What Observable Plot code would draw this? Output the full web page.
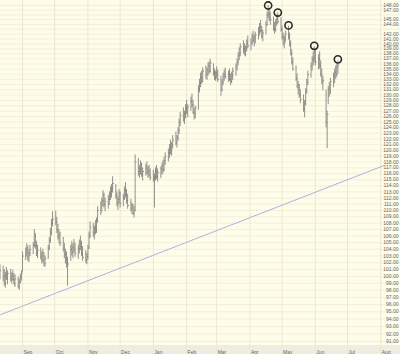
<!DOCTYPE html>
<html><head><meta charset="utf-8">
<script src="https://cdn.jsdelivr.net/npm/d3@7"></script>
<script src="https://cdn.jsdelivr.net/npm/@observablehq/plot@0.6"></script>
<style>html,body{margin:0;padding:0;background:#fefde9;} svg{display:block}</style>
</head><body><div id="chart"></div>
<script>
// ---- data ----
const firstDay = "2006-08-11", lastDay = "2007-06-22";
const high = [
101.7,
101.5,101.0,100.6,101.3,100.8, 101.0,100.5,100.9,100.4,100.2, 99.9,99.6,100.3,100.8,103.6,
104.2,104.8,104.5,103.9,104.6, 105.0,107.0,106.4,105.2,104.6, 104.2,103.6,104.0,103.4,103.0, 104.6,105.8,107.2,108.6,109.8,
109.9,108.9,107.8,107.0,106.6, 105.8,104.9,104.0,103.6,102.8, 104.6,105.2,104.8,105.5,104.9, 104.6,105.4,106.0,105.2,104.4,
103.8,103.4,104.6,106.6,108.2, 108.0,107.6,108.4,108.8,110.6, 111.4,112.0,113.2,112.8,112.0, 112.4,113.0,113.8,114.2,115.5,
114.2,113.0,112.2,113.4,113.0, 112.6,113.8,114.5,113.4,112.6, 111.8,111.2,111.0,110.6,119.2, 118.6,117.4,118.2,117.8,117.0,
117.6,118.0,117.2,117.4,116.8, 116.6,116.0,117.0,117.4,116.8, 117.2,117.8,118.2,118.8,119.6, 120.2,121.0,121.8,121.4,122.6,
123.2,122.6,124.0,125.6,126.8, 127.6,127.0,128.2,129.0,128.2, 129.6,130.2,129.0,127.6,128.0, 131.8,133.0,134.2,134.6,135.2,
135.6,135.2,136.2,136.4,136.9, 136.0,135.0,134.6,135.4,134.8, 133.6,133.0,134.2,134.8,135.2, 134.6,135.0,134.0,134.4,135.2,
136.0,137.0,138.2,139.2,140.0, 140.6,140.0,139.6,140.8,141.6, 141.0,142.0,142.6,141.8,142.4, 143.4,144.2,144.8,143.6,142.8,
144.6,146.6,148.0,147.2,146.6, 145.6,144.4,145.0,146.0,146.4, 145.4,143.6,142.2,141.6,142.6, 143.6,142.2,140.6,138.8,137.2,
135.6,134.0,132.6,132.0,131.0, 130.0,129.0,131.2,133.0,134.6, 136.2,137.4,138.4,139.4,138.6, 137.8,138.4,136.6,135.0,133.6,
131.0,127.0,131.6,132.4,133.2, 134.2,135.0,135.6,136.0,136.6
];
const low = [
99.5,
99.2,98.6,98.3,99.4,98.8, 99.2,98.9,99.3,98.7,98.4, 98.2,98.0,98.9,99.3,100.6,
102.3,102.8,102.2,102.0,102.9, 103.2,104.2,104.0,102.9,102.6, 102.4,101.8,102.0,101.4,101.3, 102.5,103.8,104.9,106.0,107.4,
107.6,106.4,105.4,104.8,104.4, 103.6,102.6,101.8,101.2,98.6, 102.2,103.0,102.6,103.4,102.8, 102.5,103.3,103.8,102.9,102.2,
101.9,101.7,102.4,104.0,105.6, 105.8,105.4,106.2,106.4,108.0, 109.2,109.8,110.6,110.4,109.8, 110.2,110.8,111.6,112.0,112.8,
111.8,110.6,110.0,111.0,110.4, 110.6,111.6,112.0,111.0,110.2, 109.8,109.4,109.2,108.8,109.8, 115.6,115.2,115.8,115.4,114.8,
115.6,115.8,115.2,115.4,114.8, 114.6,110.4,114.8,115.0,114.6, 115.2,115.8,116.0,116.4,117.4, 118.0,118.6,119.2,119.0,120.2,
120.8,120.4,121.6,122.8,124.2, 125.0,124.6,125.6,126.4,125.8, 127.0,127.6,126.4,125.4,125.6, 127.2,130.4,131.4,132.0,132.4,
133.0,132.8,133.6,134.0,134.2, 133.6,132.8,132.6,133.0,132.4, 129.8,130.6,131.8,132.6,133.0, 132.4,132.6,131.8,132.2,132.8,
133.6,134.6,135.6,136.6,137.4, 138.0,137.6,137.4,138.4,139.0, 138.6,139.6,140.2,139.4,140.0, 140.8,141.6,142.2,141.0,140.4,
141.8,143.6,145.2,144.6,143.8, 142.6,142.0,142.4,143.6,144.0, 142.4,140.8,139.6,139.0,140.2, 140.8,139.4,137.6,135.8,134.6,
132.6,131.2,130.0,129.4,128.4, 126.8,125.8,128.0,130.2,131.8, 133.2,134.6,135.6,136.2,135.6, 134.8,135.0,133.4,132.0,130.8,
124.0,120.3,128.2,129.6,130.2, 131.4,132.2,133.0,133.4,134.0
];
const close = [
100.8,
100.0,99.0,100.2,99.8,100.4, 99.6,100.1,99.5,99.0,99.6, 98.6,99.2,99.9,100.5,103.0,
103.5,104.2,102.8,103.4,104.0, 104.6,106.0,104.6,103.4,103.8, 103.0,102.4,103.5,101.9,102.6, 104.2,105.4,106.6,108.0,108.6,
108.2,107.0,105.9,106.3,105.0, 104.2,103.2,102.5,102.0,101.8, 104.0,103.6,104.3,104.0,103.4, 104.1,104.9,104.4,103.3,102.8,
102.4,102.9,104.2,106.0,107.4, 106.6,107.2,106.8,108.4,110.0, 109.8,111.6,112.5,111.0,111.4, 111.8,112.6,113.2,113.6,114.4,
112.4,111.2,111.8,112.8,111.2, 112.0,113.2,112.6,111.6,110.8, 110.4,110.8,109.6,110.0,118.0, 116.4,116.8,117.6,116.0,116.4,
117.0,116.2,116.6,115.8,115.4, 115.2,115.6,116.4,115.6,116.2, 116.8,117.4,116.6,118.2,119.0, 119.6,120.4,120.0,121.0,121.8,
121.4,122.2,123.6,125.0,126.2, 125.6,126.6,127.6,127.2,127.8, 128.8,128.2,126.8,126.6,127.6, 131.2,132.4,133.4,132.6,134.6,
134.0,134.8,135.6,134.6,136.2, 134.2,133.4,134.2,133.8,133.0, 131.0,132.4,133.6,134.0,133.6, 134.0,133.0,132.6,133.8,134.6,
135.4,136.4,137.6,138.2,139.4, 139.0,138.6,139.2,140.2,139.6, 140.4,141.4,140.8,141.2,141.8, 142.6,143.4,142.8,141.6,142.2,
144.0,146.0,146.2,145.4,145.0, 143.2,142.8,144.4,145.2,144.6, 143.0,141.4,140.2,141.0,142.0, 141.6,139.8,138.0,136.4,135.0,
133.2,131.8,131.4,130.0,129.2, 127.4,128.4,130.6,132.4,134.0, 135.6,136.8,137.2,138.6,136.4, 137.0,135.6,134.0,132.6,132.8,
125.0,126.4,131.0,130.4,132.6, 133.6,134.4,134.0,135.4,135.8
];
const markDates = ["2007-04-18","2007-04-27","2007-05-07","2007-05-31","2007-06-22"];
const markValues = [148.0, 146.5, 143.8, 139.6, 136.9];
const trendDates = ["2006-08-11T12:00Z", "2007-08-04"];
const trendValues = [94.6, 117.4];
const monthTicks = ["2006-09-01","2006-10-01","2006-11-01","2006-12-01","2007-01-01","2007-02-01","2007-03-01","2007-04-01","2007-05-01","2007-06-01","2007-07-01","2007-08-01"];
const monthNames = ["Sep","Oct","Nov","Dec","Jan","Feb","Mar","Apr","May","Jun","Jul","Aug"];
const priceLabels = [148,147,145,144,142,141,140,139,138,137,136,135,134,133,132,131,130,129,128,127,126,125,124,123,122,121,120,119,118,117,116,115,114,113,112,111,110,109,108,107,106,105,104,103,102,101,100,99,98,97,96,95,94,93,92,91];
const gridValues = [148,147,146,145,144,143,142,141,140,139,138,137,136,135,134,133,132,131,130,129,128,127,126,125,124,123,122,121,120,119,118,117,116,115,114,113,112,111,110,109,108,107,106,105,104,103,102,101,100,99,98,97,96,95,94,93,92,91];

// ---- build tables ----
const tradingDays = d3.utcDay.range(new Date(firstDay), d3.utcDay.offset(new Date(lastDay), 1))
  .filter(d => d.getUTCDay() !== 0 && d.getUTCDay() !== 6);
const bars = tradingDays.map((date, i) => ({date, high: high[i], low: low[i], close: close[i]}))
  .filter(d => d.high != null);
const marks = markDates.map((d, i) => ({date: new Date(d), value: markValues[i]}));
const trend = trendDates.map((d, i) => ({date: new Date(d), value: trendValues[i]}));
const months = monthTicks.map((d, i) => ({date: new Date(d), name: monthNames[i]}));

const plot = Plot.plot({
  width: 400, height: 354, margin: 0,
  x: {type: "utc", domain: [new Date("2006-08-11T12:00Z"), new Date("2007-08-19T09:00Z")], range: [0, 400], axis: null},
  y: {type: "log", domain: [91, 148], range: [341, 5], axis: null},
  style: {background: "#fefde9", fontFamily: "'Liberation Sans', Arial, sans-serif", fontSize: "5px", overflow: "hidden"},
  marks: [
    Plot.ruleY(gridValues, {stroke: "#f3f0da", strokeWidth: 1}),
    Plot.ruleX(months, {x: "date", stroke: "#ece8cf", strokeWidth: 1}),
    Plot.line(trend, {x: "date", y: "value", stroke: "#aab2e2", strokeWidth: 1}),
    Plot.ruleX(bars, {x: "date", y1: "low", y2: "high", stroke: "#6e6e6e", strokeWidth: 0.75}),
    Plot.dot(bars, {x: "date", y: "close", r: 0.5, fill: "#6e6e6e", dx: 0.8}),
    Plot.dot(marks, {x: "date", y: "value", r: 3.6, stroke: "#2a2a2a", strokeWidth: 1.6, fill: "none"}),
    Plot.text(priceLabels, {y: d => d, text: d => d.toFixed(2), frameAnchor: "right", textAnchor: "end", dx: -2, fill: "#666"}),
    Plot.text(months, {x: "date", text: "name", frameAnchor: "bottom", textAnchor: "start", lineAnchor: "bottom", dx: 1, dy: -1, fill: "#666"})
  ]
});
// light strip behind the month labels (decoration only)
d3.select(plot).insert("rect", ":first-child")
  .attr("x", 0).attr("y", 345).attr("width", 400).attr("height", 9).attr("fill", "#efede0");
d3.select(plot).insert("rect", ":first-child")
  .attr("x", 0).attr("y", 0).attr("width", 400).attr("height", 354).attr("fill", "#fefde9");
document.getElementById("chart").appendChild(plot);
</script>
</body></html>
